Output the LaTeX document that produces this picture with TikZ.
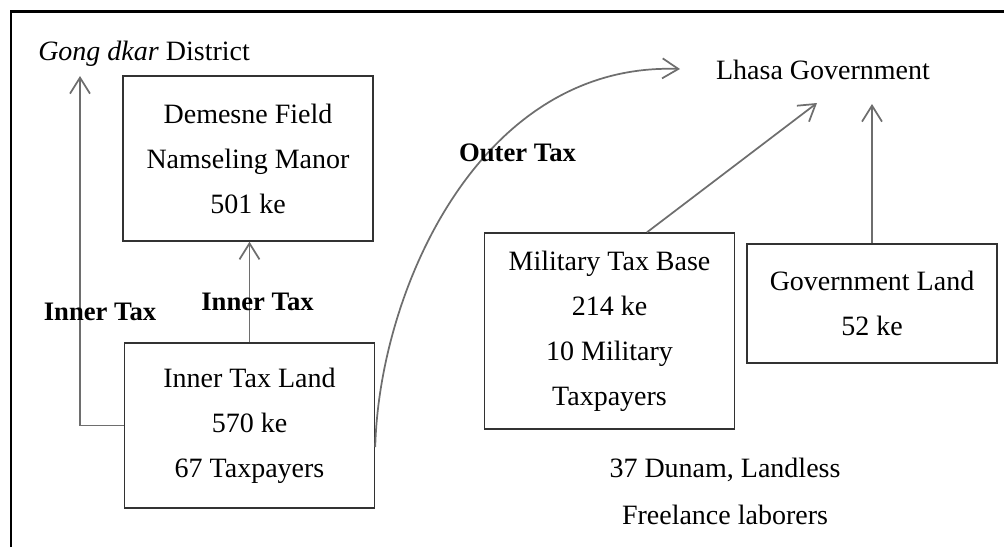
\documentclass[tikz,border=0pt]{standalone}
\usepackage{fontspec}
\setmainfont{Liberation Serif}
\usetikzlibrary{positioning}
\usetikzlibrary{calc}
\usetikzlibrary{arrows.meta}
\definecolor{linegray}{RGB}{110,110,110}
\definecolor{boxgray}{RGB}{50,50,50}

\begin{document}
\begin{tikzpicture}[x=0.75pt, y=-0.75pt,
  every node/.style={font=\fontsize{21}{33.75}\selectfont},
  land/.style={draw=boxgray, line width=1.1pt, align=center, minimum width=187.5pt, inner sep=0pt},
  tax/.style={font=\fontsize{20}{24}\selectfont\bfseries},
  flow/.style={draw=linegray, line width=1.3pt, -{Straight Barb[length=12pt,width=15pt]}}]

  \useasboundingbox (0,0) rectangle (1004,547);

  % Frame
  \draw[line width=2pt] (11,547) -- (11,11.5) -- (1004,11.5);

  % Receivers
  \node[anchor=west, inner sep=0pt] (gong) at (38,54) {\textit{Gong dkar} District};
  \node (lhasa) at (823,70) {Lhasa Government};
  \coordinate (gongtip) at (80,76);
  \coordinate (lhasatip) at (680,69);
  \coordinate (miltip) at (817,103);
  \coordinate (govtip) at (872,104);

  % Land
  \node[land, minimum height=123.75pt] (dem) at (248,158.5) {Demesne Field\\Namseling Manor\\501 ke};
  \node[land, minimum height=123.75pt] (itl) at (249.5,425.5) {Inner Tax Land\\570 ke\\67 Taxpayers};
  \node[land, minimum height=147pt] (mil) at (609.5,331) {Military Tax Base\\214 ke\\10 Military\\Taxpayers};
  \node[land, minimum height=89.25pt] (gov) at (872,303.5) {Government Land\\52 ke};
  \node[align=center, font=\fontsize{21}{35.25}\selectfont] (dunam) at (725,491.5) {37 Dunam, Landless\\Freelance laborers};

  % Inner tax
  \draw[flow] (itl.west) -| (gongtip);
  \draw[flow] (itl.north) -- (itl.north |- dem.south);
  \node[tax] (inner1) at (100,312) {Inner Tax};
  \node[tax] (inner2) at (257.5,302) {Inner Tax};

  % Outer tax
  \draw[flow] ($(itl.east)+(0,21.5)$) .. controls +(4,-157) and +(-200,-7) .. (lhasatip);
  \node[tax] (outer) at (517.5,153) {Outer Tax};
  \draw[flow] ($(mil.north)+(37.5,0)$) -- (miltip);
  \draw[flow] (gov.north) -- (govtip);
\end{tikzpicture}
\end{document}
